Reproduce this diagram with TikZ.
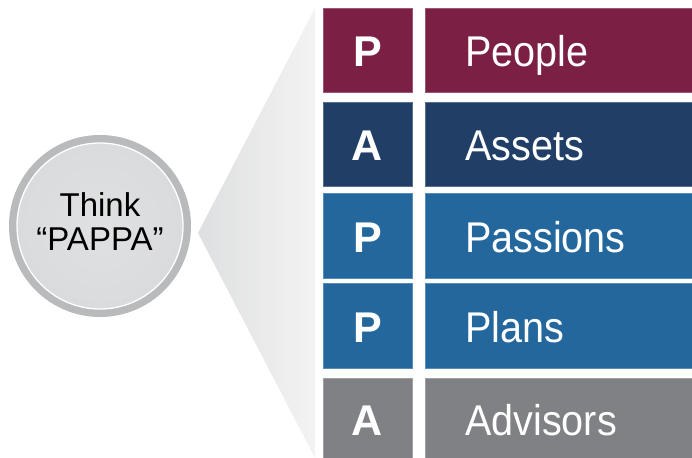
\documentclass[tikz,border=0pt]{standalone}
\usepackage{fontspec}
\setmainfont{Liberation Sans}
\usepackage{graphicx}
\definecolor{cPeople}{HTML}{7B1F45}
\definecolor{cAssets}{HTML}{213F66}
\definecolor{cBlue}{HTML}{23679D}
\definecolor{cGray}{HTML}{808185}
\definecolor{ring}{HTML}{B9BABC}
\definecolor{inner}{HTML}{DADBDC}
\definecolor{funA}{HTML}{DEDFE0}
\definecolor{funB}{HTML}{F3F3F3}
\tikzset{
  cell/.style={rectangle, inner sep=0pt, anchor=north west, draw=#1!75!white, line width=0.5pt, fill=#1},
  letter/.style={anchor=base, inner sep=0pt, text=white, font=\fontsize{43}{43}\selectfont\bfseries},
  word/.style={anchor=base west, inner sep=0pt, text=white, font=\fontsize{43}{43}\selectfont},
  ctext/.style={align=center, inner sep=0pt, font=\fontsize{33}{34}\selectfont, text=black},
}
\newcommand{\sq}[1]{\scalebox{0.92}[1]{#1}}
\begin{document}
\begin{tikzpicture}[x=1pt,y=-1pt]
\useasboundingbox (0,0) rectangle (692,457);
% funnel
\shade[left color=funA, right color=funB] (198,233) -- (315,8) -- (315,458) -- cycle;
% circle
\node[circle, fill=ring, minimum size=182pt, inner sep=0pt] (outer) at (100,226) {};
\node[circle, draw=white, line width=1.3pt, inner color=inner!85!white, outer color=inner, minimum size=166pt, inner sep=0pt] (inner) at (100,226) {};
\node[ctext] (think) at (100,222) {Think\\“PAPPA”};
% rows
\foreach \name/\col/\top/\bot/\L/\W in {
  people/cPeople/8/92/P/People,
  assets/cAssets/102/186/A/Assets,
  passions/cBlue/193/278/P/Passions,
  plans/cBlue/283/368/P/Plans,
  advisors/cGray/378/460/A/Advisors}{
  \pgfmathsetmacro{\h}{\bot-\top}
  \node[cell=\col, minimum width=89pt, minimum height=\h pt] (\name L) at (323,\top) {};
  \node[cell=\col, minimum width=270pt, minimum height=\h pt] (\name R) at (424.5,\top) {};
  \pgfmathsetmacro{\base}{(\top+\bot)/2+16.5}
  \node[letter] (\name l) at (367.5,\base) {\L};
  \node[word] (\name w) at (465,\base) {\sq{\W}};
}
\end{tikzpicture}
\end{document}
